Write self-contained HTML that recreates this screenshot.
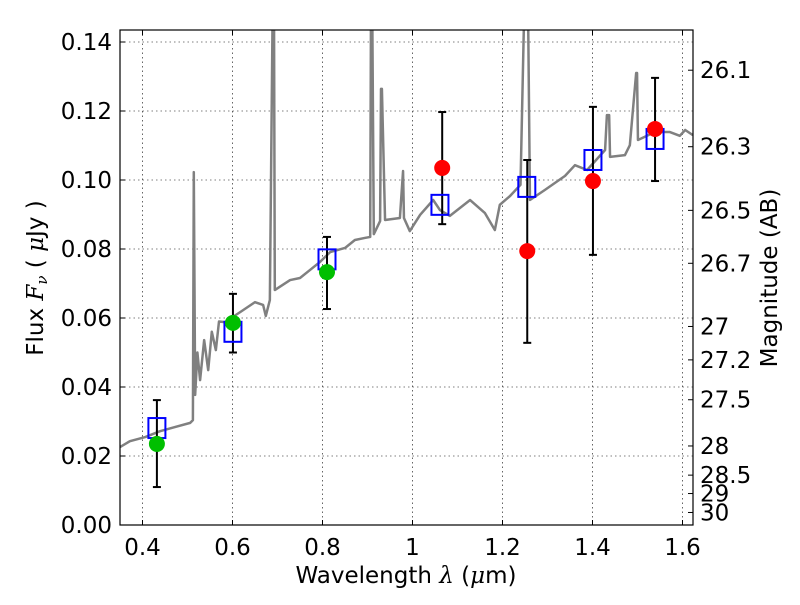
<!DOCTYPE html>
<html><head><meta charset="utf-8"><style>
body{margin:0;background:#fff;}
svg text{font-family:"DejaVu Sans","Liberation Sans",sans-serif;font-size:23px;fill:#000;}
</style></head><body>
<svg id="chart" width="800" height="600" xmlns="http://www.w3.org/2000/svg">
<defs><clipPath id="clip"><rect x="120" y="30" width="573" height="495"/></clipPath></defs>
<rect width="800" height="600" fill="#fff"/>
<g id="grid"></g>
<g id="spec" clip-path="url(#clip)"></g>
<g id="marks"></g>
<rect x="120" y="30" width="573" height="495" fill="none" stroke="#000" stroke-width="1.2"/>
<g id="axes"></g>
<text x="406" y="583" text-anchor="middle" font-size="22">Wavelength  <tspan font-style="italic" font-family="DejaVu Serif, serif">λ</tspan> (<tspan font-style="italic" font-family="DejaVu Serif, serif">μ</tspan>m)</text>
<text transform="translate(43,278) rotate(-90)" text-anchor="middle" font-size="22">Flux  <tspan font-style="italic" font-family="DejaVu Serif, serif">F</tspan><tspan font-style="italic" font-size="15" dy="4" font-family="DejaVu Serif, serif">ν</tspan><tspan dy="-4">  ( </tspan><tspan font-style="italic" font-family="DejaVu Serif, serif">μ</tspan>Jy )</text>
<text transform="translate(777,278) rotate(-90)" text-anchor="middle" font-size="22">Magnitude (AB)</text>
</svg>
<script>
const specLam=[0.350,0.372,0.406,0.439,0.472,0.506,0.512,0.514,0.517,0.522,0.528,0.537,0.546,0.554,0.563,0.570,0.583,0.617,0.650,0.668,0.674,0.683,0.690,0.692,0.694,0.728,0.750,0.772,0.794,0.817,0.850,0.872,0.894,0.906,0.908,0.910,0.914,0.928,0.930,0.932,0.939,0.972,0.979,0.981,0.994,1.017,1.046,1.061,1.083,1.128,1.161,1.183,1.194,1.217,1.240,1.250,1.256,1.261,1.294,1.339,1.361,1.388,1.428,1.432,1.437,1.439,1.472,1.483,1.497,1.499,1.501,1.539,1.572,1.594,1.606,1.623];
const specFlux=[0.0226,0.0243,0.0255,0.0272,0.0284,0.0296,0.0304,0.1023,0.0377,0.0500,0.0420,0.0536,0.0449,0.0560,0.0507,0.0590,0.0588,0.0617,0.0646,0.0638,0.0606,0.0652,0.16,0.16,0.0681,0.0710,0.0716,0.0739,0.0762,0.0791,0.0803,0.0826,0.0832,0.0835,0.16,0.16,0.0843,0.0881,0.1264,0.1264,0.0884,0.0890,0.1026,0.0890,0.0852,0.0899,0.0942,0.0913,0.0896,0.0942,0.0904,0.0855,0.0928,0.0954,0.0986,0.16,0.16,0.0942,0.0971,0.1012,0.1043,0.1029,0.1087,0.1188,0.1188,0.1067,0.1072,0.1101,0.1310,0.1310,0.1116,0.1139,0.1139,0.1128,0.1145,0.1130];
const modelLam=[0.432,0.601,0.810,1.061,1.254,1.401,1.539];
const modelFlux=[0.0281,0.0560,0.0770,0.0928,0.0980,0.1058,0.1119];
const greenLam=[0.432,0.601,0.810];
const greenFlux=[0.0235,0.0586,0.0733];
const greenLo=[0.0110,0.0500,0.0626];
const greenHi=[0.0362,0.0670,0.0835];
const redLam=[1.066,1.255,1.401,1.539];
const redFlux=[0.1035,0.0794,0.0997,0.1148];
const redLo=[0.0872,0.0528,0.0783,0.0997];
const redHi=[0.1197,0.1058,0.1212,0.1296];
const xTicks=[0.4,0.6,0.8,1.0,1.2,1.4,1.6];
const xTickLabels=["0.4","0.6","0.8","1","1.2","1.4","1.6"];
const yTicks=[0,0.02,0.04,0.06,0.08,0.10,0.12,0.14];
const yTickLabels=["0.00","0.02","0.04","0.06","0.08","0.10","0.12","0.14"];
const magTicks=[26.1,26.3,26.5,26.7,27,27.2,27.5,28,28.5,29,30];
const magTickLabels=["26.1","26.3","26.5","26.7","27","27.2","27.5","28","28.5","29","30"];

const NS="http://www.w3.org/2000/svg";
const X=v=>142.5+(v-0.4)*450;
const Y=v=>525-v*3450;
function mk(tag,attrs,parent){const e=document.createElementNS(NS,tag);for(const k in attrs)e.setAttribute(k,attrs[k]);parent.appendChild(e);return e;}
const grid=document.getElementById('grid'),axes=document.getElementById('axes'),spec=document.getElementById('spec'),marks=document.getElementById('marks');
xTicks.forEach((t,i)=>{const x=X(t);
 const g=mk('line',{x1:x,x2:x,y1:30,y2:525,stroke:'#000','stroke-width':0.6,'stroke-dasharray':'1.5,3'},grid);
 
 mk('line',{x1:x,x2:x,y1:525,y2:520,stroke:'#000'},axes);
 mk('line',{x1:x,x2:x,y1:30,y2:35,stroke:'#000'},axes);
 const tx=mk('text',{x:x,y:555,'text-anchor':'middle'},axes);tx.textContent=xTickLabels[i];
 });
yTicks.forEach((t,i)=>{const y=Y(t);
 const g=mk('line',{x1:120,x2:693,y1:y,y2:y,stroke:'#000','stroke-width':0.6,'stroke-dasharray':'1.5,3'},grid);
 
 mk('line',{x1:120,x2:125,y1:y,y2:y,stroke:'#000'},axes);
 const tx=mk('text',{x:112,y:y+8,'text-anchor':'end'},axes);tx.textContent=yTickLabels[i];
 });
magTicks.forEach((m,i)=>{const y=Y(Math.pow(10,(23.9-m)/2.5));
 mk('line',{x1:688,x2:693,y1:y,y2:y,stroke:'#000'},axes);
 const tx=mk('text',{x:700,y:y+8},axes);tx.textContent=magTickLabels[i];
 });
const p=mk('polyline',{points:specLam.map((l,i)=>X(l)+','+Y(specFlux[i])).join(' '),fill:'none',stroke:'#808080','stroke-width':2.5,'stroke-linejoin':'round'},spec);

function errbar(l,lo,hi){const x=X(l);
 mk('line',{x1:x,x2:x,y1:Y(lo),y2:Y(hi),stroke:'#000','stroke-width':2},marks);
 mk('line',{x1:x-4,x2:x+4,y1:Y(lo),y2:Y(lo),stroke:'#000','stroke-width':2},marks);
 mk('line',{x1:x-4,x2:x+4,y1:Y(hi),y2:Y(hi),stroke:'#000','stroke-width':2},marks);}
greenLam.forEach((l,i)=>errbar(l,greenLo[i],greenHi[i]));
redLam.forEach((l,i)=>errbar(l,redLo[i],redHi[i]));
modelLam.forEach((l,i)=>{const r=mk('rect',{x:X(l)-8.5,y:Y(modelFlux[i])-10,width:17,height:20,fill:'none',stroke:'#0000ff','stroke-width':2},marks);
 });
greenLam.forEach((l,i)=>{const c=mk('circle',{cx:X(l),cy:Y(greenFlux[i]),r:8,fill:'#00bf00'},marks);
 });
redLam.forEach((l,i)=>{const c=mk('circle',{cx:X(l),cy:Y(redFlux[i]),r:8,fill:'#ff0000'},marks);
 });
</script>
</body></html>
